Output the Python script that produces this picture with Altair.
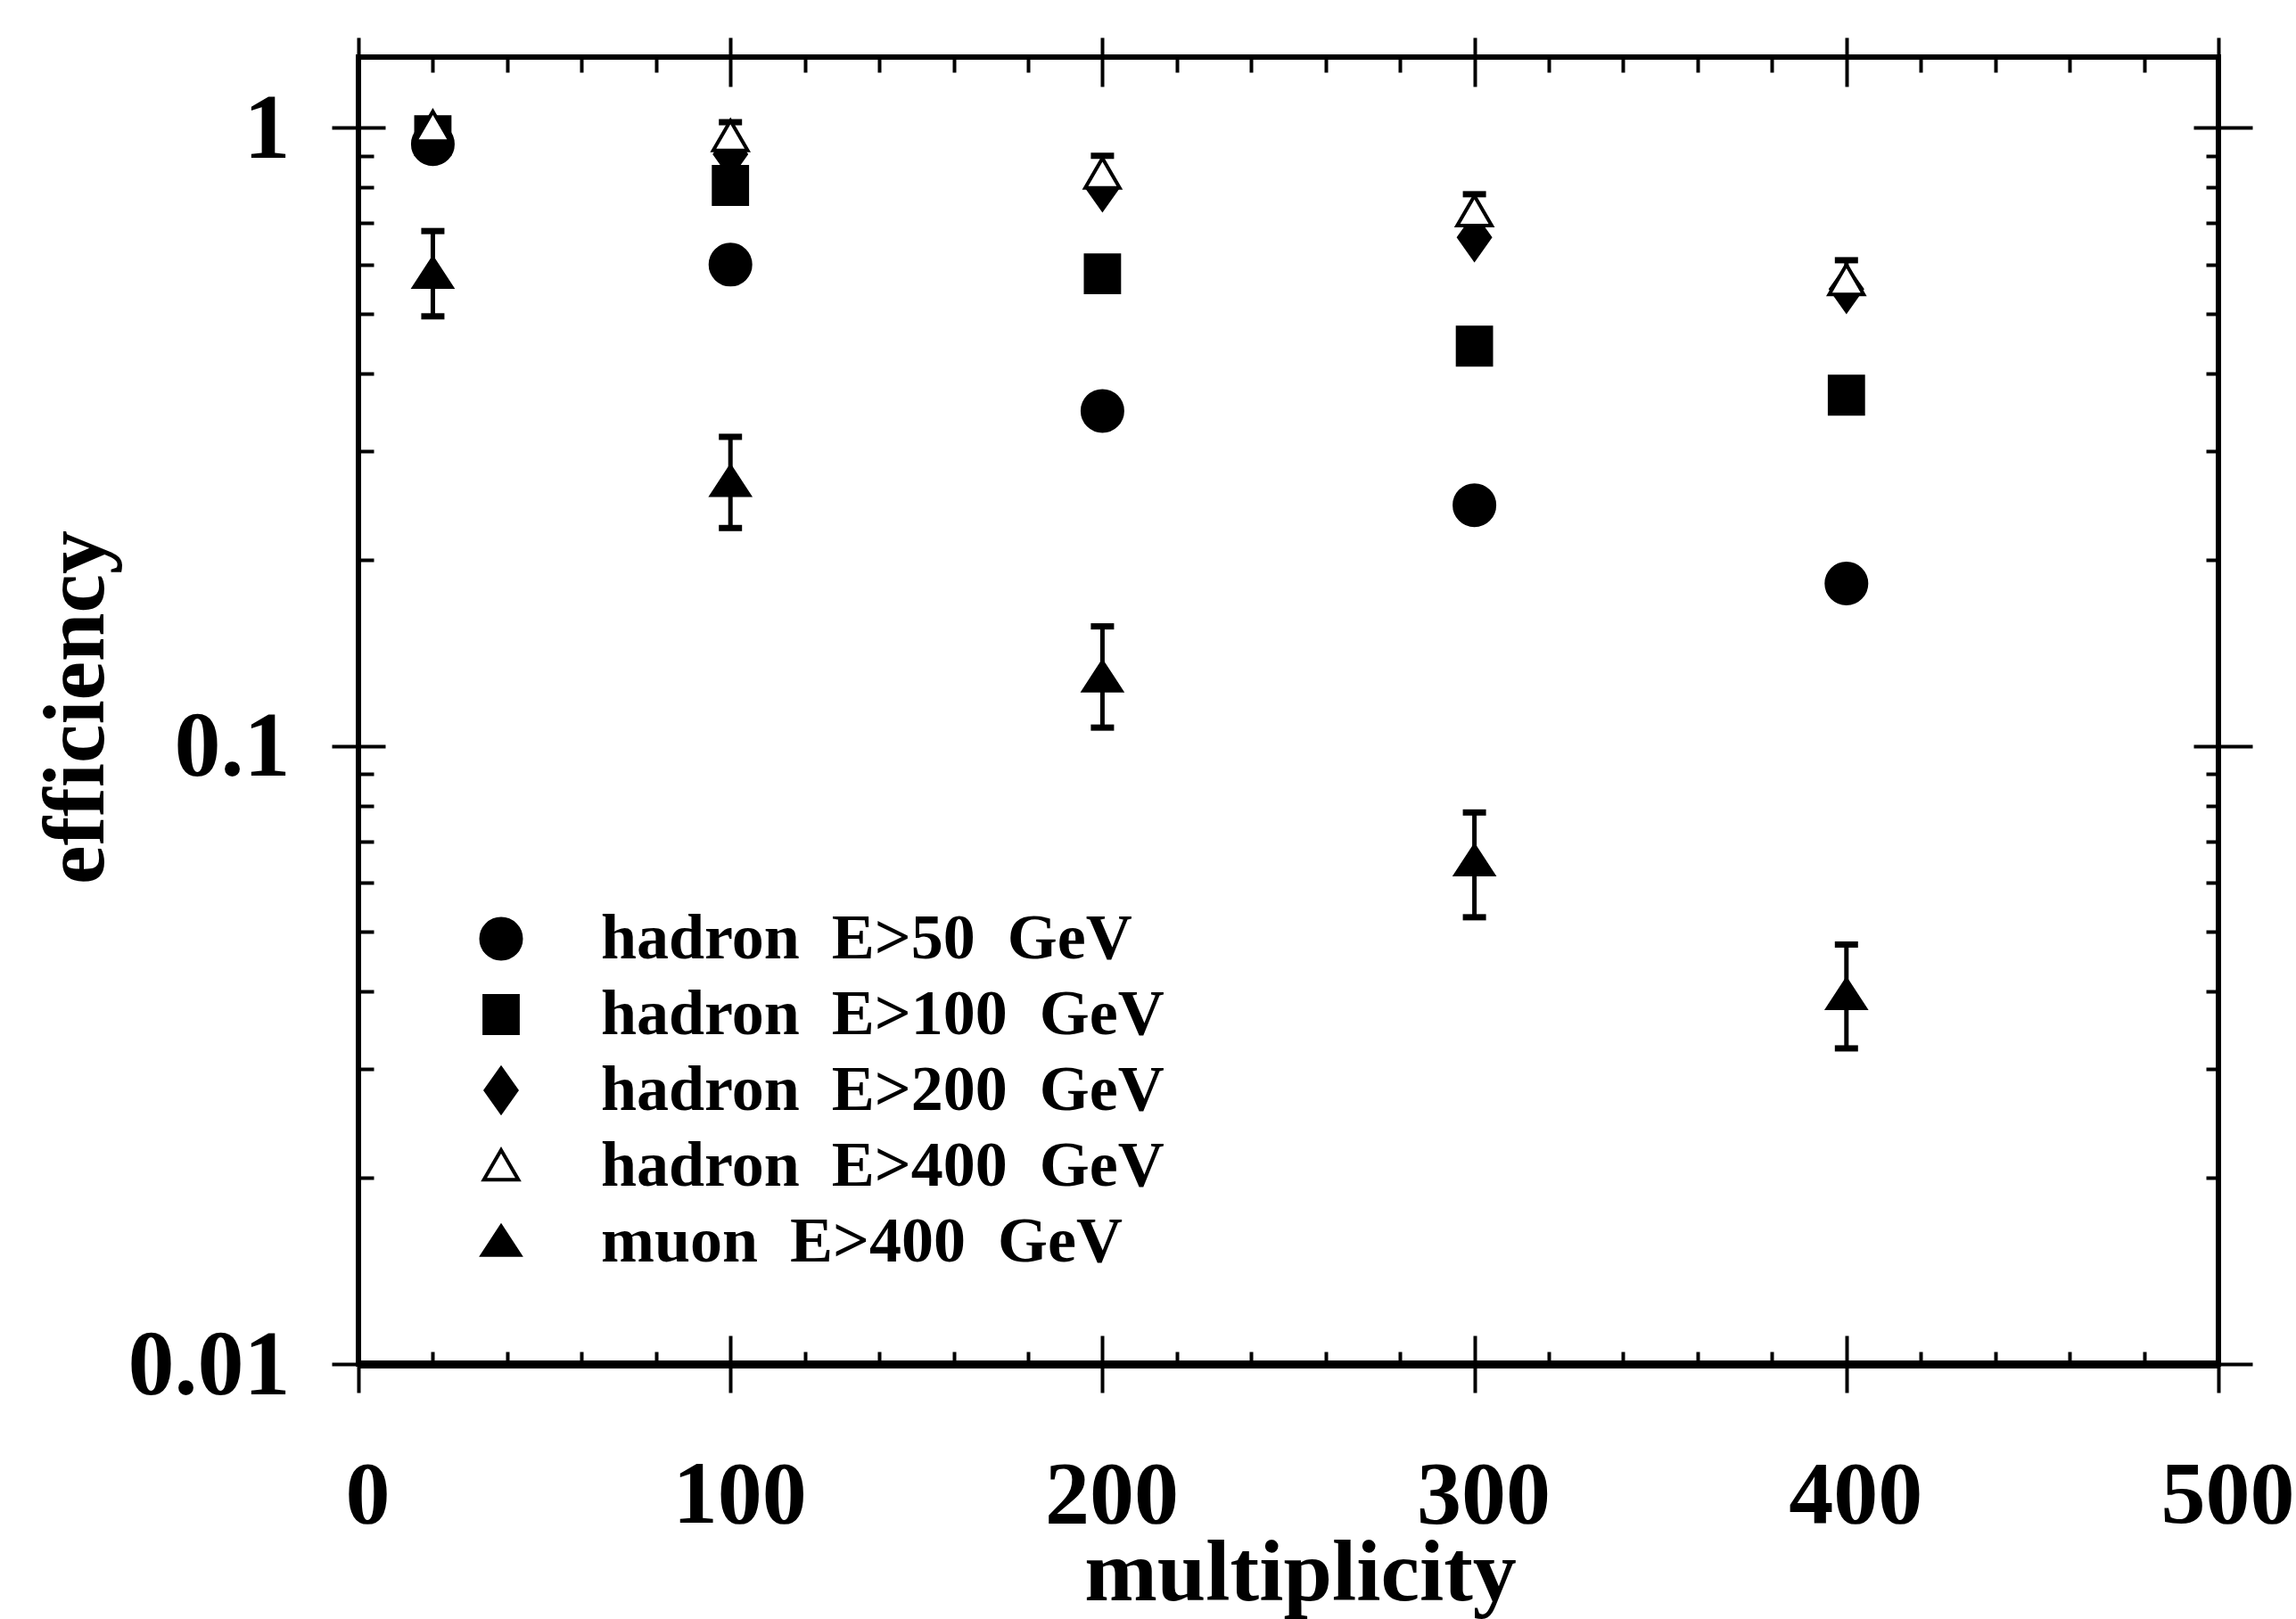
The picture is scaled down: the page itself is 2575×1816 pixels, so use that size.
import altair as alt
import pandas as pd

# ---------------- data ----------------
multiplicity = [20, 100, 200, 300, 400]
series = [
    "hadron\u00a0\u00a0E>50\u00a0\u00a0GeV",
    "hadron\u00a0\u00a0E>100\u00a0\u00a0GeV",
    "hadron\u00a0\u00a0E>200\u00a0\u00a0GeV",
    "hadron\u00a0\u00a0E>400\u00a0\u00a0GeV",
    "muon\u00a0\u00a0E>400\u00a0\u00a0GeV",
]
eff_h50 = [0.94, 0.60, 0.348, 0.245, 0.183]
eff_h100 = [0.97, 0.806, 0.58, 0.443, 0.369]
eff_h200 = [0.97, 0.905, 0.80, 0.664, 0.548]
eff_h400 = [1.00, 0.966, 0.84, 0.73, 0.565]
eff_h400_hi = [1.03, 1.02, 0.90, 0.78, 0.61]
eff_mu = [0.58, 0.267, 0.129, 0.065, 0.0395]
eff_mu_hi = [0.68, 0.316, 0.156, 0.078, 0.0477]
eff_mu_lo = [0.495, 0.225, 0.107, 0.0528, 0.0324]

x_major = [0, 100, 200, 300, 400, 500]
x_minor = [v for v in range(20, 500, 20) if v % 100 != 0]
y_major = [0.01, 0.1, 1]
y_minor = [0.02, 0.03, 0.04, 0.05, 0.06, 0.07, 0.08, 0.09,
           0.2, 0.3, 0.4, 0.5, 0.6, 0.7, 0.8, 0.9]

shape_paths = [
    "circle",
    "M-0.84,-0.93L0.84,-0.93L0.84,0.93L-0.84,0.93Z",
    "M0,-1.1L0.78,0L0,1.1L-0.78,0Z",
    "M0,-0.8L0.86,0.68L-0.86,0.68Z",
    "M0,-0.78L0.94,0.66L-0.94,0.66Z",
]
fills = ["black", "black", "black", "white", "black"]
strokes = ["black", "black", "black", "black", "black"]

rows = []
for name, vals in zip(series, [eff_h50, eff_h100, eff_h200, eff_h400, eff_mu]):
    for m, v in zip(multiplicity, vals):
        rows.append({"series": name, "multiplicity": m, "efficiency": v})
pts = pd.DataFrame(rows)

err = pd.DataFrame({
    "multiplicity": multiplicity + multiplicity,
    "lo": eff_mu_lo + eff_h400,
    "hi": eff_mu_hi + eff_h400_hi,
})
caps = pd.DataFrame({
    "multiplicity": multiplicity * 3,
    "cap": eff_mu_lo + eff_mu_hi + eff_h400_hi,
})

# ---------------- style ----------------
FONT = "Liberation Serif"
W, H = 2086, 1466
xs = alt.Scale(domain=[0, 500], nice=False, zero=False)
ys = alt.Scale(type="log", domain=[0.01, 1.3], nice=False)


def tick_axis(orient, values, size, offset=0):
    return alt.Axis(orient=orient, values=values, tickSize=size, offset=offset,
                    labels=False, domain=False, grid=False, ticks=True,
                    tickColor="black", tickWidth=4, title=None)


x_main = alt.Axis(
    orient="bottom", values=x_major, tickSize=32, tickWidth=4, tickColor="black",
    domain=True, domainColor="black", domainWidth=9, grid=False,
    labelFont=FONT, labelFontSize=100, labelFontWeight="bold", labelColor="black",
    labelPadding=66, labelFlush=False, labelOverlap=False, format="d", labelOffset=10,
    labelLimit=1000,
    title="multiplicity", titleFont=FONT, titleFontSize=98, titleFontWeight="bold",
    titleColor="black", titleX=1056, titleY=264, titleBaseline="alphabetic",
)
y_main = alt.Axis(
    orient="left", values=y_major, tickSize=30, tickWidth=4, tickColor="black",
    domain=False, grid=False,
    labelFont=FONT, labelFontSize=104, labelFontWeight="bold", labelColor="black",
    labelPadding=47, labelFlush=False, labelOverlap=False, format="~g", labelOffset=2,
    labelLimit=1000,
    title="efficiency", titleFont=FONT, titleFontSize=98, titleFontWeight="bold",
    titleColor="black", titleAngle=270, titleX=-287, titleY=729,
    titleBaseline="alphabetic",
)

axis_pairs = [
    (x_main, y_main),
    (tick_axis("bottom", x_major, 32, -32), tick_axis("left", y_major, 30, -30)),
    (tick_axis("bottom", x_minor, 14, -14), tick_axis("left", y_minor, 17, -17)),
    (tick_axis("top", x_major, 22, 0), tick_axis("right", y_major, 38, 0)),
    (tick_axis("top", x_major, 33, -33), tick_axis("right", y_major, 28, -28)),
    (tick_axis("top", x_minor, 17, -17), tick_axis("right", y_minor, 14, -14)),
]

axis_layers = [
    alt.Chart(pts).mark_point(opacity=0).encode(
        x=alt.X("multiplicity:Q", scale=xs, axis=ax_x),
        y=alt.Y("efficiency:Q", scale=ys, axis=ax_y),
    )
    for ax_x, ax_y in axis_pairs
]

rules = alt.Chart(err).mark_rule(color="black", strokeWidth=5).encode(
    x=alt.X("multiplicity:Q", scale=xs, axis=None),
    y=alt.Y("lo:Q", scale=ys, axis=None),
    y2="hi:Q",
)
cap_marks = alt.Chart(caps).mark_tick(
    orient="horizontal", size=26, thickness=7, color="black", opacity=1
).encode(
    x=alt.X("multiplicity:Q", scale=xs, axis=None),
    y=alt.Y("cap:Q", scale=ys, axis=None),
)

leg = alt.Legend(
    title=None, orient="none", legendX=124, legendY=953, padding=0,
    labelFont=FONT, labelFontSize=72, labelFontWeight="bold", labelColor="black",
    labelOffset=76, rowPadding=13, symbolSize=2025,
    symbolStrokeWidth=4, symbolOpacity=1, labelLimit=2000,
)
points = alt.Chart(pts).mark_point(
    filled=True, opacity=1, strokeWidth=4, size=2025
).encode(
    x=alt.X("multiplicity:Q", scale=xs, axis=None),
    y=alt.Y("efficiency:Q", scale=ys, axis=None),
    shape=alt.Shape("series:N", scale=alt.Scale(domain=series, range=shape_paths), legend=leg),
    fill=alt.Fill("series:N", scale=alt.Scale(domain=series, range=fills), legend=leg),
    stroke=alt.Stroke("series:N", scale=alt.Scale(domain=series, range=strokes), legend=leg),
)

chart = alt.layer(*axis_layers, rules, cap_marks, points).resolve_axis(
    x="independent", y="independent"
).properties(
    width=W, height=H,
    padding={"left": 402, "top": 64, "right": 2575 - 402 - W, "bottom": 1816 - 64 - H},
    autosize=alt.AutoSizeParams(type="none"),
    background="white",
).configure_view(stroke="black", strokeWidth=6)

chart.save("out.html", embed_options={"renderer": "svg", "actions": False})
